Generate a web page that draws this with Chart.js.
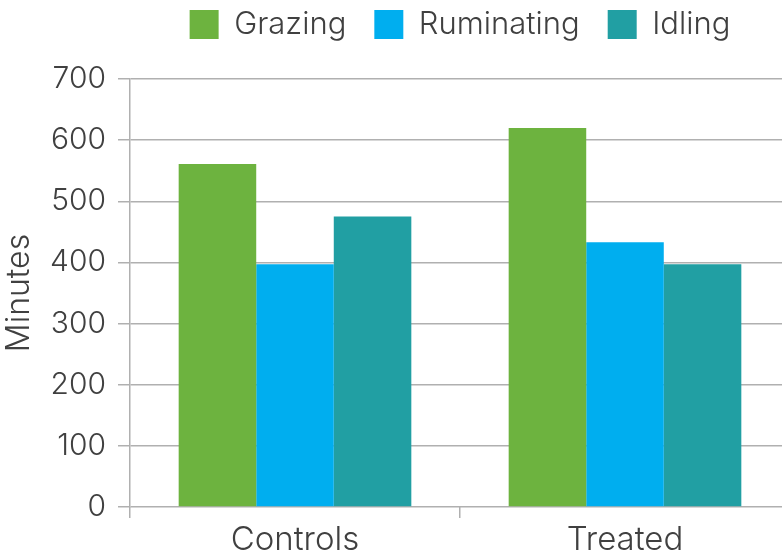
<!DOCTYPE html>
<html>
<head>
<meta charset="utf-8">
<script src="https://cdn.jsdelivr.net/npm/chart.js@4.4.0/dist/chart.umd.min.js"></script>
<style>
  html, body { margin: 0; padding: 0; background: #fff; overflow: hidden; }
  #wrap { width: 790px; height: 556px; }
</style>
</head>
<body>
<div id="wrap"><canvas id="chart" width="790" height="556"></canvas></div>
<script>
const categories = ['Controls', 'Treated'];
const grazing = [561, 620];
const ruminating = [397, 433];
const idling = [475, 397];
const yTicks = [0, 100, 200, 300, 400, 500, 600, 700];

const font = "Inter, 'Helvetica Neue', 'Liberation Sans', sans-serif";
const textColor = '#404040';
const gridColor = '#b0b0b0';
const legendPad = 28;

// legend: fixed band height, items near the top, centred over the plot area
const placeLegend = {
  id: 'placeLegend',
  beforeLayout(chart) {
    const lg = chart.legend;
    if (lg && !lg._patched) {
      const fit = lg.fit.bind(lg);
      lg.fit = function () { fit(); this.height = 79; };
      lg._patched = true;
    }
  },
  afterLayout(chart) {
    const lg = chart.legend;
    lg.left = chart.chartArea.left;
    lg.right = chart.chartArea.right;
    lg.top = 9 - legendPad;
  }
};

new Chart(document.getElementById('chart'), {
  type: 'bar',
  data: {
    labels: categories,
    datasets: [
      { label: 'Grazing', data: grazing, backgroundColor: '#6db33f' },
      { label: 'Ruminating', data: ruminating, backgroundColor: '#00aeef' },
      { label: 'Idling', data: idling, backgroundColor: '#219fa3' }
    ]
  },
  options: {
    responsive: false,
    animation: false,
    layout: { padding: 0 },
    datasets: { bar: { barPercentage: 1, categoryPercentage: 0.705 } },
    plugins: {
      tooltip: { enabled: false },
      legend: {
        position: 'top',
        labels: {
          boxWidth: 29,
          boxHeight: 29,
          padding: legendPad,
          color: textColor,
          font: { family: font, size: 31, weight: 300 }
        }
      }
    },
    scales: {
      x: {
        offset: true,
        grid: { offset: true, drawOnChartArea: false, color: gridColor, lineWidth: 1.5, tickLength: 11 },
        border: { display: false },
        ticks: { color: textColor, padding: 2, font: { family: font, size: 33, weight: 300 } },
        afterFit(scale) { scale.height = 49; }
      },
      y: {
        min: 0,
        max: 700,
        afterBuildTicks(scale) { scale.ticks = yTicks.map(v => ({ value: v })); },
        grid: { color: gridColor, lineWidth: 1.5, tickLength: 12 },
        border: { display: true, color: gridColor, width: 1.5 },
        ticks: { color: textColor, padding: 12, font: { family: font, size: 30, weight: 300 } },
        title: { display: true, text: 'Minutes', color: textColor, padding: 0, font: { family: font, size: 32, weight: 300 } },
        afterFit(scale) { scale.width = 130; }
      }
    }
  },
  plugins: [placeLegend]
});
</script>
</body>
</html>
